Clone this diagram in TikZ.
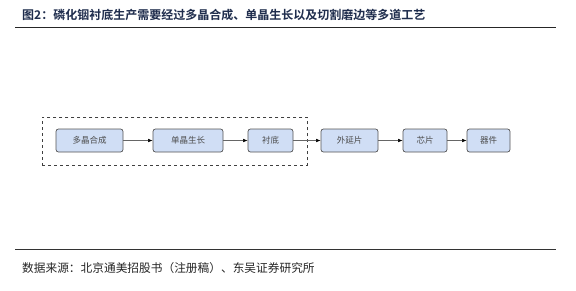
\documentclass[tikz,border=0pt]{standalone}
\usepackage{fontspec}
\newfontfamily\cjk{Noto Sans CJK SC}
\newfontfamily\cjkb{Noto Sans CJK SC Bold}
\usetikzlibrary{arrows.meta}
\definecolor{boxfill}{HTML}{D0DEF5}
\definecolor{boxline}{HTML}{555555}
\definecolor{titlecol}{HTML}{1F2D4D}
\tikzset{
  procbox/.style={draw=boxline, fill=boxfill, rounded corners=2.5pt, line width=0.7pt,
    minimum height=23pt, inner sep=0pt, font=\cjk\fontsize{8.5}{10}\selectfont, text=black!70},
  flow/.style={draw=black!60, line width=0.5pt, -{Latex[length=4.5pt,width=3.5pt,black]}},
}
\begin{document}
\begin{tikzpicture}[x=1pt,y=-1pt]
\useasboundingbox (0,0) rectangle (576,290);
\fill[white] (0,0) rectangle (576,290);
% title
\node[anchor=west, inner sep=0pt, text=titlecol, font=\cjkb\fontsize{12}{14}\selectfont] (title) at (22,14.5) {图2：磷化铟衬底生产需要经过多晶合成、单晶生长以及切割磨边等多道工艺};
\coordinate (tl) at (15,27.5);
\coordinate (tr) at (556,27.5);
\draw[line width=1.3pt, black!85] (tl) -- (tr);
% dashed group
\node[draw=black!75, dashed, line width=0.8pt, minimum width=265pt, minimum height=48pt, inner sep=0pt, anchor=north west] (grp) at (42,117) {};
% boxes
\node[procbox, minimum width=67pt] (b1) at (89.5,140.5) {多晶合成};
\node[procbox, minimum width=70pt] (b2) at (188,140.5) {单晶生长};
\node[procbox, minimum width=45pt] (b3) at (270.5,140.5) {衬底};
\node[procbox, minimum width=57pt] (b4) at (349.5,140.5) {外延片};
\node[procbox, minimum width=44pt] (b5) at (425,140.5) {芯片};
\node[procbox, minimum width=43pt] (b6) at (488.5,140.5) {器件};
\draw[flow] (b1) -- (b2);
\draw[flow] (b2) -- (b3);
\draw[flow] (b3) -- (b4);
\draw[flow] (b4) -- (b5);
\draw[flow] (b5) -- (b6);
% bottom
\coordinate (bl) at (15,249.5);
\coordinate (br) at (556,249.5);
\draw[line width=1.3pt, black!80] (bl) -- (br);
\node[anchor=west, inner sep=0pt, text=black!85, font=\cjk\fontsize{11.7}{13}\selectfont] (src) at (22,268.5) {数据来源：北京通美招股书（注册稿）、东吴证券研究所};
\end{tikzpicture}
\end{document}
